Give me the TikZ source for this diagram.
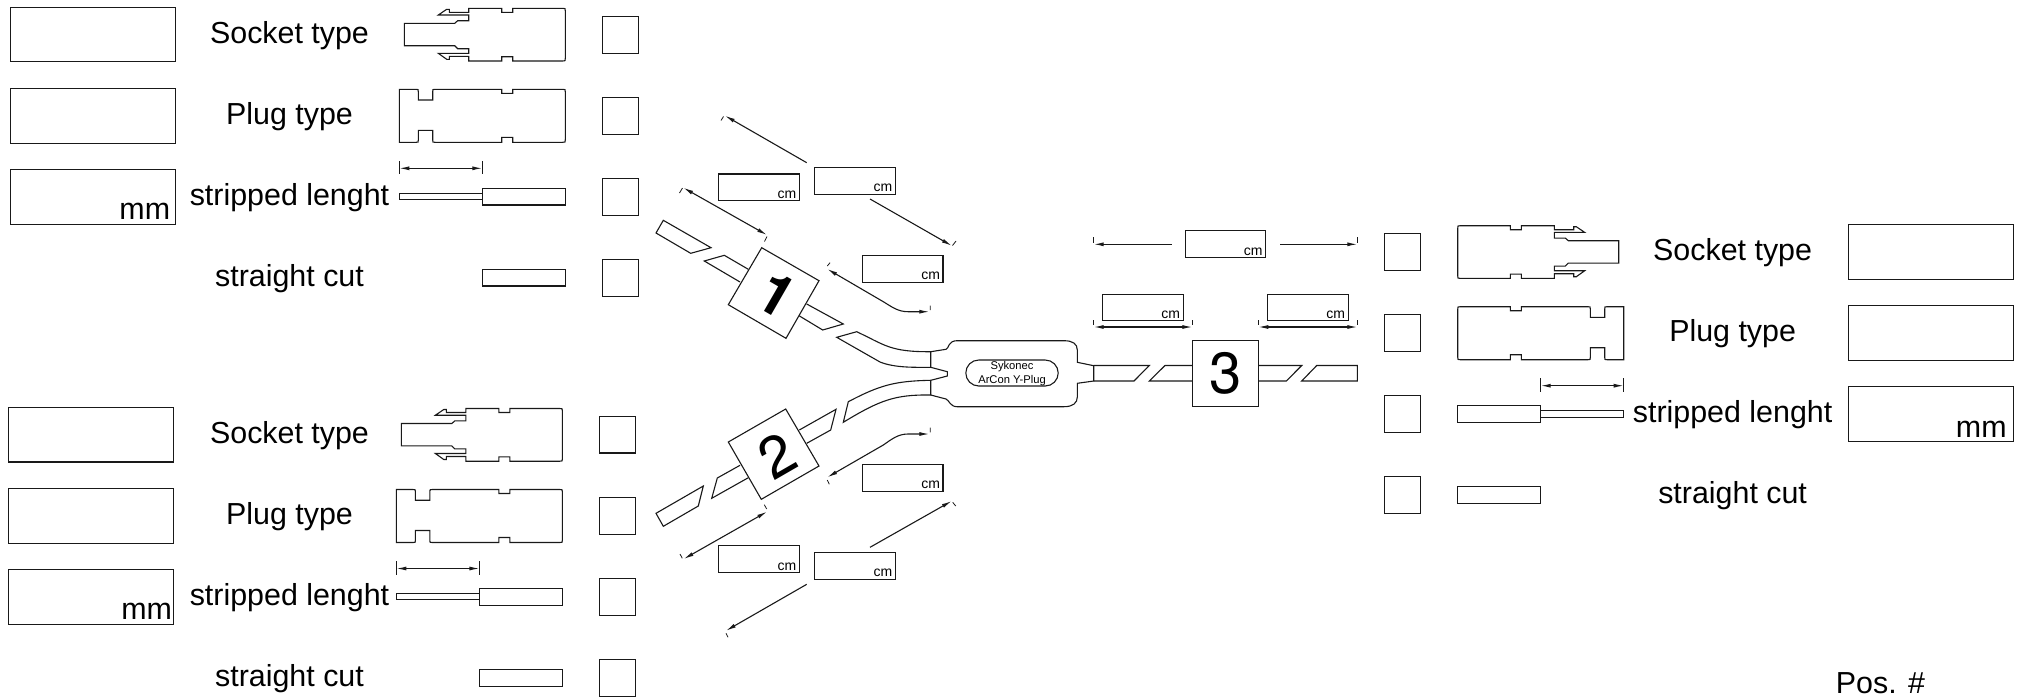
\documentclass[tikz,border=0pt]{standalone}
\usepackage{fontspec}
\setmainfont{Liberation Sans}
\newfontfamily\digitfont{TeX Gyre Heros}
\usetikzlibrary{arrows.meta}
\tikzset{
  ln/.style={line width=0.55pt,line join=miter,draw=black!90},
  widebox/.style={ln,draw,rectangle,inner sep=0pt,minimum width=82.4pt,minimum height=27.4pt},
  cmbox/.style={ln,draw,rectangle,inner sep=0pt,minimum width=40.3pt,minimum height=13.4pt},
  tickbox/.style={ln,draw,rectangle,inner sep=0pt,minimum width=18.2pt,minimum height=18.4pt},
  numbox/.style={inner sep=0pt,font=\digitfont\fontsize{29}{29}\selectfont},
  lab/.style={inner sep=0pt,anchor=base,font=\fontsize{15.2}{15.2}\selectfont,text=black},
  unitcm/.style={inner sep=0pt,anchor=base east,font=\fontsize{7}{7}\selectfont},
  unitmm/.style={inner sep=0pt,anchor=base east,font=\fontsize{15.2}{15.2}\selectfont},
  plugtxt/.style={inner sep=0pt,anchor=base,font=\fontsize{5.6}{5.6}\selectfont},
  dimboth/.style={ln,{Latex[length=5pt,width=2pt]}-{Latex[length=5pt,width=2pt]}},
  dimend/.style={ln,-{Latex[length=5pt,width=2pt]}},
  tk/.style={line width=0.4pt,draw=black!90}
}
% terminal drawings in the coordinates of the upper left group
\newcommand{\socketshape}{%
  \draw[ln] (404.3,23.3) -- (454.7,23.3) -- (457.7,20.7) -- (468.7,20.7) -- (468.7,15) -- (438.3,15) -- (446.7,9.3) -- (449.3,9.3) -- (449.3,12.3) -- (468.7,12.3) -- (468.7,8.3) -- (501.7,8.3) -- (501.7,12.3) -- (512.7,12.3) -- (512.7,8.3) -- (562.7,8.3) .. controls (565.3,8.3) .. (565.3,11) -- (565.3,58.4) .. controls (565.3,61) .. (562.7,61) -- (512.7,61) -- (512.7,56.7) -- (501.7,56.7) -- (501.7,61) -- (468.7,61) -- (468.7,56.3) -- (449.3,56.3) -- (449.3,59.3) -- (446.7,59.3) -- (438.3,53.3) -- (468.7,53.3) -- (468.7,48.7) -- (457.7,48.7) -- (454.7,45.7) -- (404.3,45.7) -- cycle;}
\newcommand{\plugshape}{%
  \draw[ln] (399.3,89.3) -- (416,89.3) .. controls (418.3,89.3) .. (418.3,91.7) -- (418.3,100) -- (432.7,100) -- (432.7,91.7) .. controls (432.7,89.3) .. (435,89.3) -- (501.7,89.3) -- (501.7,93.3) -- (512.7,93.3) -- (512.7,89.3) -- (562.7,89.3) .. controls (565.3,89.3) .. (565.3,92) -- (565.3,139.7) .. controls (565.3,142.3) .. (562.7,142.3) -- (512.7,142.3) -- (512.7,137.3) -- (501.7,137.3) -- (501.7,142.3) -- (435,142.3) .. controls (432.7,142.3) .. (432.7,140) -- (432.7,130.3) -- (418.3,130.3) -- (418.3,140) .. controls (418.3,142.3) .. (416,142.3) -- (399.3,142.3) -- cycle;}
\newcommand{\strippedshape}{%
  \draw[ln] (482.3,193.3) -- (399.3,193.3) -- (399.3,199.7) -- (482.3,199.7);
  \draw[ln] (482.3,188.3) rectangle (565.3,205);
  \coordinate (da) at (399.3,168.3);
  \coordinate (db) at (482.3,168.3);
  \draw[dimboth] (da) -- (db);
  \draw[tk] (399.3,161) -- (399.3,174.3) (482.3,161) -- (482.3,174.3);}
\newcommand{\cutshape}{\draw[ln] (482.3,269.3) rectangle (565.3,286);}
\newcommand{\allshapes}{\socketshape\plugshape\strippedshape\cutshape}
\newcommand{\dimdraw}[4]{% style, name, start, end
  \coordinate (#2s) at (#3);
  \coordinate (#2e) at (#4);
  \draw[#1] (#2s) -- (#2e);}
\begin{document}
\begin{tikzpicture}[x=0.5pt,y=-0.5pt]
\useasboundingbox (0,0) rectangle (2022,697);

% --- upper left group
\node[widebox] (tlA) at (93,34.5) {};
\node[widebox] (tlB) at (93,115.7) {};
\node[widebox] (tlC) at (93,196.8) {};
\node[unitmm] (tlmm) at (170.5,219.3) {mm};
\node[lab] (tlS) at (289.5,43) {Socket type};
\node[lab] (tlP) at (289.5,124.6) {Plug type};
\node[lab] (tlL) at (289.5,205.3) {stripped lenght};
\node[lab] (tlT) at (289.5,286.7) {straight cut};
\node[tickbox] (tlq1) at (620.3,34.8) {};
\node[tickbox] (tlq2) at (620.3,115.7) {};
\node[tickbox] (tlq3) at (620.3,196.7) {};
\node[tickbox] (tlq4) at (620.3,277.7) {};
\allshapes

% --- lower left group
\node[widebox] (blA) at (90.7,434.6) {};
\node[widebox] (blB) at (90.7,515.7) {};
\node[widebox] (blC) at (90.7,596.9) {};
\node[unitmm] (blmm) at (172.3,619.3) {mm};
\node[lab] (blS) at (289.5,443.3) {Socket type};
\node[lab] (blP) at (289.5,524.6) {Plug type};
\node[lab] (blL) at (289.5,605.3) {stripped lenght};
\node[lab] (blT) at (289.5,686.6) {straight cut};
\node[tickbox] (blq1) at (617.4,434.6) {};
\node[tickbox] (blq2) at (617.4,515.9) {};
\node[tickbox] (blq3) at (617.4,596.9) {};
\node[tickbox] (blq4) at (617.4,677.9) {};
\begin{scope}[shift={(-2.9,400.2)}]\allshapes\end{scope}

% --- right group
\node[widebox] (rA) at (1930.7,252) {};
\node[widebox] (rB) at (1930.7,333.2) {};
\node[widebox] (rC) at (1930.7,414.2) {};
\node[unitmm] (rmm) at (2007,437) {mm};
\node[lab] (rS) at (1732.6,260.5) {Socket type};
\node[lab] (rP) at (1732.6,341.6) {Plug type};
\node[lab] (rL) at (1732.6,422.3) {stripped lenght};
\node[lab] (rT) at (1732.6,503.9) {straight cut};
\node[tickbox] (rq1) at (1402.5,252.2) {};
\node[tickbox] (rq2) at (1402.5,333.2) {};
\node[tickbox] (rq3) at (1402.5,414.2) {};
\node[tickbox] (rq4) at (1402.5,495.2) {};
\begin{scope}[shift={(2023,217.4)},xscale=-1]\allshapes\end{scope}

\node[lab,anchor=base west] (pos) at (1835.5,693.3) {Pos. \#};

% --- cable 1
\draw[ln] (663.3,220.3) -- (711,247.7) -- (690.7,253.3) -- (656,233) -- cycle;
\draw[ln] (748.3,269.3) -- (724.3,255.3) -- (704.3,261) -- (740,282);
\draw[ln] (806.7,304) -- (843.3,324) -- (822.7,330) -- (799,315.7);
\draw[ln] (930.7,351.7) .. controls (890,352) and (885,345) .. (856.7,331.7) -- (836.7,337.3) -- (880,362) .. controls (895,368) and (915,367.3) .. (930.7,367.3);
\coordinate (sq1a) at (761.7,247.7);
\coordinate (sq1b) at (819,280.7);
\coordinate (sq1c) at (786,338.3);
\coordinate (sq1d) at (728.3,304.7);
\draw[ln] (sq1a) -- (sq1b) -- (sq1c) -- (sq1d) -- cycle;
\node[numbox,rotate=-30] (d1) at (777,295) {\bfseries 1};

% --- cable 2
\draw[ln] (799.3,430) -- (836,409.3) -- (830.7,430) -- (806.7,443.3);
\draw[ln] (740,465.3) -- (717.3,478) -- (711.7,498.3) -- (748.3,477.7);
\draw[ln] (703.3,486) -- (698.3,506) -- (663.3,526.3) -- (656,513.3) -- cycle;
\draw[ln] (930.7,380.3) .. controls (895,381) and (880,385) .. (848.3,401.7) -- (843.3,422.3) .. controls (880,400) and (895,394.5) .. (930.7,395);
\coordinate (sq2a) at (785.7,409);
\coordinate (sq2b) at (819,466);
\coordinate (sq2c) at (761.3,499.3);
\coordinate (sq2d) at (728.3,442);
\draw[ln] (sq2a) -- (sq2b) -- (sq2c) -- (sq2d) -- cycle;
\node[numbox,rotate=30] (d2) at (776.7,456) {2};

% --- Y plug body
\draw[ln] (930.7,351.7) -- (946,349.3) .. controls (949,348.5) and (948,340.7) .. (957,340.7) -- (1064,340.7) .. controls (1073,340.7) and (1077.3,344) .. (1077.3,350) -- (1077.3,362.3) -- (1093.7,365.7) -- (1093.7,381) -- (1077.3,383.3) -- (1077.3,397) .. controls (1077.3,403) and (1073,406.7) .. (1064,406.7) -- (957,406.7) .. controls (950,406.7) and (949,400) .. (946,399) -- (930.7,395) -- (930.7,380.3) -- (947.3,376) -- (947.3,371.7) -- (930.7,367.3) -- cycle;
\node[ln,draw,rectangle,rounded corners=6.5pt,inner sep=0pt,minimum width=46.2pt,minimum height=13pt] (oval) at (1012,373) {};
\node[plugtxt] (pt1) at (1012,369.3) {Sykonec};
\node[plugtxt] (pt2) at (1012,383.3) {ArCon Y-Plug};

% --- cable 3
\draw[ln] (1093.7,365.5) -- (1149.3,365.5) -- (1134,381) -- (1093.7,381);
\draw[ln] (1192.3,365.5) -- (1165,365.5) -- (1149.3,381) -- (1192.3,381);
\node[ln,draw,rectangle,inner sep=0pt,minimum width=33pt,minimum height=33.2pt] (sq3) at (1225.3,373.5) {};
\node[numbox] (d3) at (1225.3,373.5) {3};
\draw[ln] (1258.3,365.5) -- (1301.7,365.5) -- (1286.3,381) -- (1258.3,381);
\draw[ln] (1316.7,365.5) -- (1357.3,365.5) -- (1357.3,381) -- (1301.7,381) -- cycle;

% --- centimetre boxes
\node[cmbox] (c1) at (759,187.4) {};
\node[unitcm] (u1) at (796.7,198.3) {cm};
\node[cmbox] (c2) at (855,181) {};
\node[unitcm] (u2) at (892.7,191.8) {cm};
\node[cmbox] (c3) at (902.7,268.8) {};
\node[unitcm] (u3) at (940.3,279.7) {cm};
\node[cmbox] (c4) at (759,559.2) {};
\node[unitcm] (u4) at (796.7,570) {cm};
\node[cmbox] (c5) at (855,565.8) {};
\node[unitcm] (u5) at (892.7,576.7) {cm};
\node[cmbox] (c6) at (902.7,477.8) {};
\node[unitcm] (u6) at (940.3,488.7) {cm};
\node[cmbox] (c7) at (1225.5,244.3) {};
\node[unitcm] (u7) at (1263,255.2) {cm};
\node[cmbox] (c8) at (1142.8,307.5) {};
\node[unitcm] (u8) at (1180.5,318.3) {cm};
\node[cmbox] (c9) at (1307.8,307.5) {};
\node[unitcm] (u9) at (1345.5,318.3) {cm};

% --- dimension lines, upper cable
\dimdraw{dimend}{a1}{806.7,162.7}{725,115.7}
\dimdraw{dimend}{a2}{870,199}{951.7,245.7}
\dimdraw{dimboth}{a3}{683.3,187.7}{767,235}
\coordinate (a4s) at (929.3,311.7);
\coordinate (a4e) at (827.3,269);
\draw[dimboth] (a4s) -- (908,311.7) .. controls (898,311.7) and (892,307) .. (883.3,301.7) -- (a4e);
\draw[tk] (721,120.5) -- (723.5,116.5) (952.5,245.5) -- (956,241) (679.5,193) -- (682.5,188) (764.5,241.5) -- (767,236.5) (827.3,266) -- (830,262.7) (930.3,305.7) -- (930.3,310);

% --- dimension lines, lower cable
\dimdraw{dimend}{b1}{806.7,584.3}{726,630.7}
\dimdraw{dimend}{b2}{870,547.3}{951.7,501}
\dimdraw{dimboth}{b3}{683.7,559}{767,511.7}
\coordinate (b4s) at (929.3,434);
\coordinate (b4e) at (827.3,477.3);
\draw[dimboth] (b4s) -- (908,434) .. controls (898,434) and (892,439) .. (883.3,445) -- (b4e);
\draw[tk] (726,633.3) -- (728,637.3) (952.7,502.3) -- (955.7,506) (680,554) -- (682.3,558.3) (764.3,504.7) -- (766.7,509) (827.3,480) -- (829.3,484.3) (930.3,427.7) -- (930.3,432.3);

% --- dimension lines, cable 3
\dimdraw{dimend}{t1}{1171.7,244.3}{1093.7,244.3}
\dimdraw{dimend}{t2}{1280,244.3}{1357.3,244.3}
\dimdraw{dimboth}{t3}{1093.7,327}{1192.3,327}
\dimdraw{dimboth}{t4}{1258.3,327}{1357.3,327}
\draw[tk] (1093.7,237.3) -- (1093.7,242.7) (1357.3,237.3) -- (1357.3,242.7) (1093.7,320) -- (1093.7,325.3) (1192.3,320) -- (1192.3,325.3) (1258.3,320) -- (1258.3,325.3) (1357.3,320) -- (1357.3,325.3);
\end{tikzpicture}
\end{document}
